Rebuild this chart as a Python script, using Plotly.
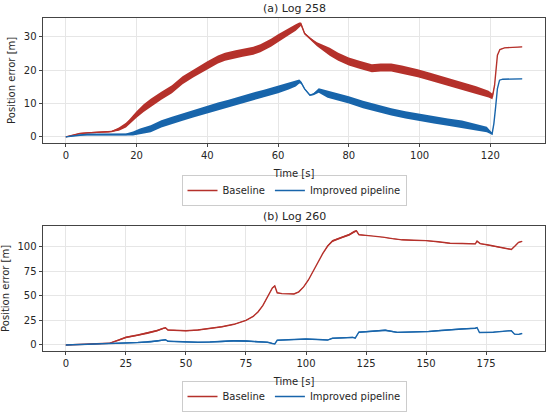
import plotly.graph_objects as go

RED = "#b5312b"
BLUE = "#1865ab"

# (a) Log 258 - baseline
a_base_t = [0, 2, 4, 6, 8, 10, 12, 13, 15, 17, 18, 20, 22, 24, 27, 30, 33, 36, 40, 43, 45, 48, 50,
            53, 55, 58, 60, 63, 65, 66, 66.5, 67.5, 69, 71, 74.6, 77, 80, 83, 86.5, 89, 92, 95,
            99.5, 103, 106, 109, 112, 116, 119.5, 120.6, 121.2, 121.6, 122, 122.7, 124, 129]
a_base_err = [0, 0.5, 1.0, 1.2, 1.3, 1.4, 1.5, 1.6, 2.3, 3.5, 4.5, 6.7, 8.6, 10.2, 12.3, 14.3, 17.0,
              19.0, 21.5, 23.2, 24.0, 24.8, 25.2, 25.8, 26.6, 28.2, 29.6, 31.6, 32.8, 33.5, 33.8,
              31.0, 29.5, 27.8, 25.5, 24.0, 22.6, 21.6, 20.6, 20.8, 20.8, 20.2, 19.1, 18.0, 17.1,
              16.2, 15.2, 14.0, 12.8, 12.1, 15.5, 20.0, 24.5, 26.2, 26.7, 27.0]
a_base_spread = [0.1, 0.1, 0.15, 0.15, 0.15, 0.15, 0.2, 0.2, 0.5, 0.7, 0.8, 1.0, 1.15, 1.2, 1.2, 1.2,
                 1.2, 1.2, 1.2, 1.2, 1.2, 1.2, 1.2, 1.2, 1.2, 1.2, 1.2, 1.1, 1.0, 0.8, 0.5, 0.3,
                 0.3, 0.6, 1.2, 1.2, 1.2, 1.2, 1.2, 1.2, 1.2, 1.2, 1.2, 1.2, 1.2, 1.2, 1.2, 1.15,
                 1.0, 0.8, 0.1, 0.05, 0.05, 0.05, 0.05, 0.05]

# (a) Log 258 - improved pipeline
a_impr_t = [0, 2, 4, 6, 10, 14, 17, 19, 21, 24, 27, 30, 33, 36, 40, 43, 46, 50, 53, 56, 60, 63, 65,
            66, 66.5, 67.5, 69, 70, 71.5, 74, 77, 80, 84, 88, 92, 96, 100, 104, 108, 112, 116,
            119, 120.5, 121, 121.5, 122, 122.6, 123.5, 129]
a_impr_err = [0, 0.3, 0.6, 0.7, 0.7, 0.6, 0.7, 1.0, 1.6, 2.4, 3.9, 4.9, 5.9, 6.9, 8.3, 9.2, 10.0,
              11.3, 12.2, 13.0, 14.2, 15.2, 15.9, 16.6, 16.3, 14.4, 12.5, 12.8, 13.9, 12.8, 12.0,
              11.1, 9.7, 8.5, 7.5, 6.6, 5.8, 5.1, 4.4, 3.8, 2.9, 2.2, 0.9, 4.0, 9.0, 14.5, 17.0,
              17.3, 17.4]
a_impr_spread = [0.1, 0.15, 0.2, 0.2, 0.2, 0.2, 0.3, 0.6, 0.9, 1.05, 1.1, 1.1, 1.1, 1.1, 1.1, 1.1,
                 1.1, 1.1, 1.1, 1.1, 1.1, 1.0, 0.8, 0.6, 0.4, 0.2, 0.2, 0.3, 0.7, 1.1, 1.1, 1.1,
                 1.1, 1.1, 1.1, 1.1, 1.1, 1.1, 1.1, 1.1, 1.0, 0.8, 0.3, 0.05, 0.05, 0.05, 0.05,
                 0.05, 0.05]

# (b) Log 260 - baseline
b_base_t = [0, 5, 10, 15, 18, 22, 25, 30, 34, 38, 40.5, 41.5, 42.5, 45, 50, 55, 60, 65, 70, 75, 78,
            80, 82, 84, 86, 87, 88, 90, 95, 97, 99, 101, 103, 105, 107, 109, 111, 113, 115, 118,
            120, 121, 122, 125, 128, 132, 136, 140, 145, 150, 155, 160, 165, 170.5, 171.2, 172.5,
            176, 180, 185.5, 187, 188.5, 190]
b_base_err = [0, 0.5, 1.0, 1.4, 1.7, 5.0, 7.7, 10.0, 12.0, 14.5, 16.8, 17.5, 15.2, 15.0, 14.4, 15.2,
              16.8, 18.5, 21.0, 25.0, 29.0, 33.5, 40.0, 49.0, 58.0, 60.0, 53.0, 52.2, 51.8, 54.0,
              59.0, 66.0, 75.0, 84.3, 93.0, 100.5, 105.5, 107.5, 109.3, 112.0, 115.0, 116.0, 112.0,
              111.2, 111.0, 109.5, 108.0, 106.8, 106.3, 106.0, 104.8, 103.3, 103.0, 102.7, 105.5,
              103.0, 101.5, 99.5, 97.0, 100.5, 104.3, 105.3]
b_base_spread = [0.3, 0.3, 0.3, 0.3, 0.4, 0.8, 0.9, 0.9, 0.9, 0.9, 0.8, 0.6, 0.5, 0.4, 0.4, 0.4, 0.4,
                 0.4, 0.4, 0.4, 0.4, 0.4, 0.4, 0.4, 0.5, 0.6, 0.4, 0.4, 0.4, 0.4, 0.4, 0.4, 0.4,
                 0.4, 0.5, 0.8, 1.0, 1.0, 1.0, 1.0, 1.0, 0.8, 0.5, 0.4, 0.4, 0.4, 0.4, 0.4, 0.4,
                 0.4, 0.4, 0.4, 0.4, 0.4, 0.4, 0.4, 0.4, 0.4, 0.4, 0.4, 0.4, 0.4]

# (b) Log 260 - improved pipeline
b_impr_t = [0, 5, 10, 15, 20, 25, 30, 35, 38, 40.5, 41.5, 42.5, 45, 50, 55, 60, 65, 70, 75, 80, 84,
            86, 87, 88, 90, 95, 100, 105, 109, 111, 115, 119.5, 120.5, 122, 125, 130, 133, 138,
            145, 151, 155, 160, 165, 170.5, 171.2, 172.2, 178, 184, 185.5, 186.8, 188.5, 190]
b_impr_err = [0, 0.3, 1.0, 1.3, 1.5, 2.0, 2.5, 3.2, 4.0, 4.8, 5.3, 3.8, 3.5, 3.0, 2.8, 3.0, 3.5,
              4.3, 4.0, 3.3, 2.8, 1.5, 1.0, 4.8, 5.0, 5.5, 6.0, 5.5, 5.0, 6.8, 7.2, 7.7, 7.0, 13.0,
              13.5, 14.5, 15.0, 12.8, 13.0, 13.7, 14.5, 15.7, 16.3, 17.0, 17.7, 12.7, 13.0, 14.3,
              14.5, 11.0, 10.8, 11.7]
b_impr_spread = [0.3, 0.3, 0.4, 0.4, 0.5, 0.5, 0.6, 0.7, 0.7, 0.7, 0.6, 0.5, 0.6, 0.6, 0.6, 0.6,
                 0.7, 0.8, 0.8, 0.7, 0.6, 0.4, 0.3, 0.4, 0.5, 0.5, 0.5, 0.5, 0.5, 0.6, 0.6, 0.6,
                 0.5, 0.7, 0.8, 0.8, 0.8, 0.6, 0.6, 0.6, 0.6, 0.6, 0.6, 0.6, 0.5, 0.4, 0.5, 0.5,
                 0.5, 0.4, 0.4, 0.4]

fig = go.Figure()


# band = noisy envelope of the error, line = its centre
def add_series(t, err, spread, color, name, xa, ya, legend, show):
    upper = [e + s for e, s in zip(err, spread)]
    lower = [e - s for e, s in zip(err, spread)]
    fig.add_trace(go.Scatter(x=t + t[::-1], y=upper + lower[::-1], fill="toself",
                             fillcolor=color, line=dict(width=0), mode="lines",
                             hoverinfo="skip", showlegend=False, xaxis=xa, yaxis=ya))
    fig.add_trace(go.Scatter(x=t, y=err, mode="lines", name=name, line=dict(color=color, width=1.4),
                             xaxis=xa, yaxis=ya, legend=legend, showlegend=show))


add_series(a_base_t, a_base_err, a_base_spread, RED, "Baseline", "x", "y", "legend", True)
add_series(a_impr_t, a_impr_err, a_impr_spread, BLUE, "Improved pipeline", "x", "y", "legend", True)
add_series(b_base_t, b_base_err, b_base_spread, RED, "Baseline", "x2", "y2", "legend2", True)
add_series(b_impr_t, b_impr_err, b_impr_spread, BLUE, "Improved pipeline", "x2", "y2", "legend2", True)

W, H = 550, 412
FONT = dict(family="DejaVu Sans", size=10, color="#262626")

axis_style = dict(showline=True, linecolor="#444444", linewidth=1, mirror=True,
                  ticks="outside", ticklen=3.5, tickcolor="#444444", tickfont=FONT,
                  showgrid=True, gridcolor="#e6e6e6", gridwidth=1, zeroline=False,
                  automargin=False)

xdom = [43 / W, 545 / W]
fig.update_layout(
    width=W, height=H,
    margin=dict(l=0, r=0, t=0, b=0),
    paper_bgcolor="white", plot_bgcolor="white",
    font=FONT,
    xaxis=dict(domain=xdom, range=[-6.45, 135.45], dtick=20, anchor="y",
               title=dict(text="Time [s]", font=FONT, standoff=9), **axis_style),
    yaxis=dict(domain=[1 - 145 / H, 1 - 18.5 / H], range=[-1.7, 35.6], dtick=10, anchor="x",
               title=dict(text="Position error [m]", font=FONT, standoff=6), **axis_style),
    xaxis2=dict(domain=xdom, range=[-9.5, 199.5], dtick=25, anchor="y2",
                title=dict(text="Time [s]", font=FONT, standoff=9), **axis_style),
    yaxis2=dict(domain=[1 - 356.7 / H, 1 - 230 / H], range=[-5.75, 120.75], tickvals=[0, 25, 50, 75, 100],
                anchor="x2", title=dict(text="Position error [m]", font=FONT, standoff=6), **axis_style),
    legend=dict(orientation="h", x=294 / W, xanchor="center", y=1 - 178 / H, yanchor="top",
                bordercolor="#cccccc", borderwidth=1, font=FONT, bgcolor="white"),
    legend2=dict(orientation="h", x=294 / W, xanchor="center", y=1 - 388 / H, yanchor="top",
                 bordercolor="#cccccc", borderwidth=1, font=FONT, bgcolor="white"),
    annotations=[
        dict(text="(a) Log 258", x=294 / W, y=1 - 9 / H, xref="paper", yref="paper",
             xanchor="center", yanchor="middle", showarrow=False,
             font=dict(family="DejaVu Sans", size=11, color="#262626")),
        dict(text="(b) Log 260", x=294 / W, y=1 - 220 / H, xref="paper", yref="paper",
             xanchor="center", yanchor="middle", showarrow=False,
             font=dict(family="DejaVu Sans", size=11, color="#262626")),
    ],
)

# the page body has a default 8px margin; drop it so the figure sits at 0,0
fig.write_html("out.html", config={"displayModeBar": False},
               post_script="document.body.style.margin='0';")
